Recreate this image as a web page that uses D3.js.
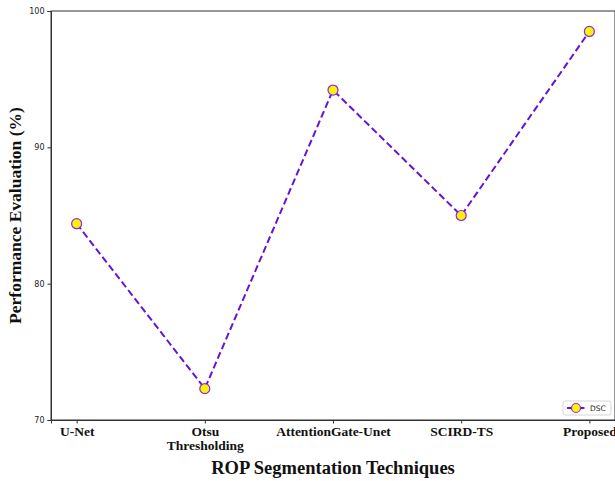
<!doctype html>
<html lang="en">
<head>
  <meta charset="utf-8">
  <title>ROP Segmentation DSC</title>
  <script src="https://d3js.org/d3.v7.min.js"></script>
  <style>
    body { margin: 0; background: #fff; }
  </style>
</head>
<body>
  <div id="my_chart"></div>
<script>
  // data
  const techniques = ["U-Net", "Otsu\nThresholding", "AttentionGate-Unet", "SCIRD-TS", "Proposed"];
  const dsc = [84.4, 72.3, 94.2, 85.0, 98.5];
  const y_ticks = [70, 80, 90, 100];

  const width = 615, height = 481;
  const margin = {top: 11, right: 0, bottom: 61, left: 51};
  const inner_w = width - margin.left - margin.right;
  const inner_h = height - margin.top - margin.bottom;
  const line_color = "#6414d8";

  const x = d3.scaleLinear()
    .domain([-0.2, techniques.length - 1 + 0.2])
    .range([0, inner_w]);
  const y = d3.scaleLinear()
    .domain([70, 100])
    .range([inner_h, 0]);

  const svg = d3.select("#my_chart").append("svg")
    .attr("width", width)
    .attr("height", height);

  const g = svg.append("g")
    .attr("transform", "translate(" + margin.left + "," + margin.top + ")");

  // frame (top and left spines visible, right is off-image)
  g.append("rect")
    .attr("width", inner_w).attr("height", inner_h)
    .attr("fill", "none").attr("stroke", "#333").attr("stroke-width", 1);

  // y axis
  const y_axis = g.append("g")
    .call(d3.axisLeft(y).tickValues(y_ticks).tickSize(3.5).tickPadding(3));
  y_axis.select(".domain").attr("stroke", "#333");
  y_axis.selectAll("line").attr("stroke", "#333");
  y_axis.selectAll("text")
    .attr("font-family", "DejaVu Sans, sans-serif")
    .attr("font-size", 8)
    .attr("fill", "#222");

  // x axis
  const x_axis = g.append("g")
    .attr("transform", "translate(0," + inner_h + ")")
    .call(d3.axisBottom(x).tickValues(d3.range(techniques.length)).tickSize(3.5).tickFormat(""));
  x_axis.select(".domain").attr("stroke", "#333");
  x_axis.selectAll("line").attr("stroke", "#333");

  x_axis.selectAll(".tick").each(function(d) {
    const lines = techniques[d].split("\n");
    const t = d3.select(this).append("text")
      .attr("text-anchor", "middle")
      .attr("font-family", "Liberation Serif, Times New Roman, serif")
      .attr("font-weight", "bold")
      .attr("font-size", 13.5)
      .attr("fill", "#111");
    lines.forEach((s, i) => {
      t.append("tspan").attr("x", 0).attr("y", 16 + i * 14).text(s);
    });
  });

  // axis titles
  svg.append("text")
    .attr("x", margin.left + x(2))
    .attr("y", 474)
    .attr("text-anchor", "middle")
    .attr("font-family", "Liberation Serif, Times New Roman, serif")
    .attr("font-weight", "bold")
    .attr("font-size", 18.5)
    .attr("fill", "#111")
    .text("ROP Segmentation Techniques");

  svg.append("text")
    .attr("transform", "translate(21," + (margin.top + inner_h / 2) + ") rotate(-90)")
    .attr("text-anchor", "middle")
    .attr("font-family", "Liberation Serif, Times New Roman, serif")
    .attr("font-weight", "bold")
    .attr("font-size", 17.5)
    .attr("fill", "#111")
    .text("Performance Evaluation (%)");

  // line
  const line = d3.line()
    .x((d, i) => x(i))
    .y(d => y(d));

  g.append("path")
    .datum(dsc)
    .attr("fill", "none")
    .attr("stroke", line_color)
    .attr("stroke-width", 2)
    .attr("stroke-dasharray", "7,3.5")
    .attr("d", line);

  g.selectAll("circle.pt")
    .data(dsc)
    .enter().append("circle")
      .attr("class", "pt")
      .attr("cx", (d, i) => x(i))
      .attr("cy", d => y(d))
      .attr("r", 5)
      .attr("fill", "#fff200")
      .attr("stroke", "#8a2be2")
      .attr("stroke-width", 1.2);

  // legend
  const lg = g.append("g")
    .attr("transform", "translate(" + (inner_w - 52) + "," + (inner_h - 19) + ")");
  lg.append("rect")
    .attr("width", 48).attr("height", 14).attr("rx", 2)
    .attr("fill", "#fff").attr("stroke", "#ccc").attr("stroke-width", 0.8);
  lg.append("line")
    .attr("x1", 4).attr("x2", 22).attr("y1", 7).attr("y2", 7)
    .attr("stroke", line_color).attr("stroke-width", 2).attr("stroke-dasharray", "7,3.5");
  lg.append("circle")
    .attr("cx", 13).attr("cy", 7).attr("r", 4.5)
    .attr("fill", "#fff200").attr("stroke", "#8a2be2").attr("stroke-width", 1.2);
  lg.append("text")
    .attr("x", 27).attr("y", 10)
    .attr("font-family", "DejaVu Sans, sans-serif")
    .attr("font-size", 7.5)
    .attr("fill", "#222")
    .text("DSC");
</script>
</body>
</html>
